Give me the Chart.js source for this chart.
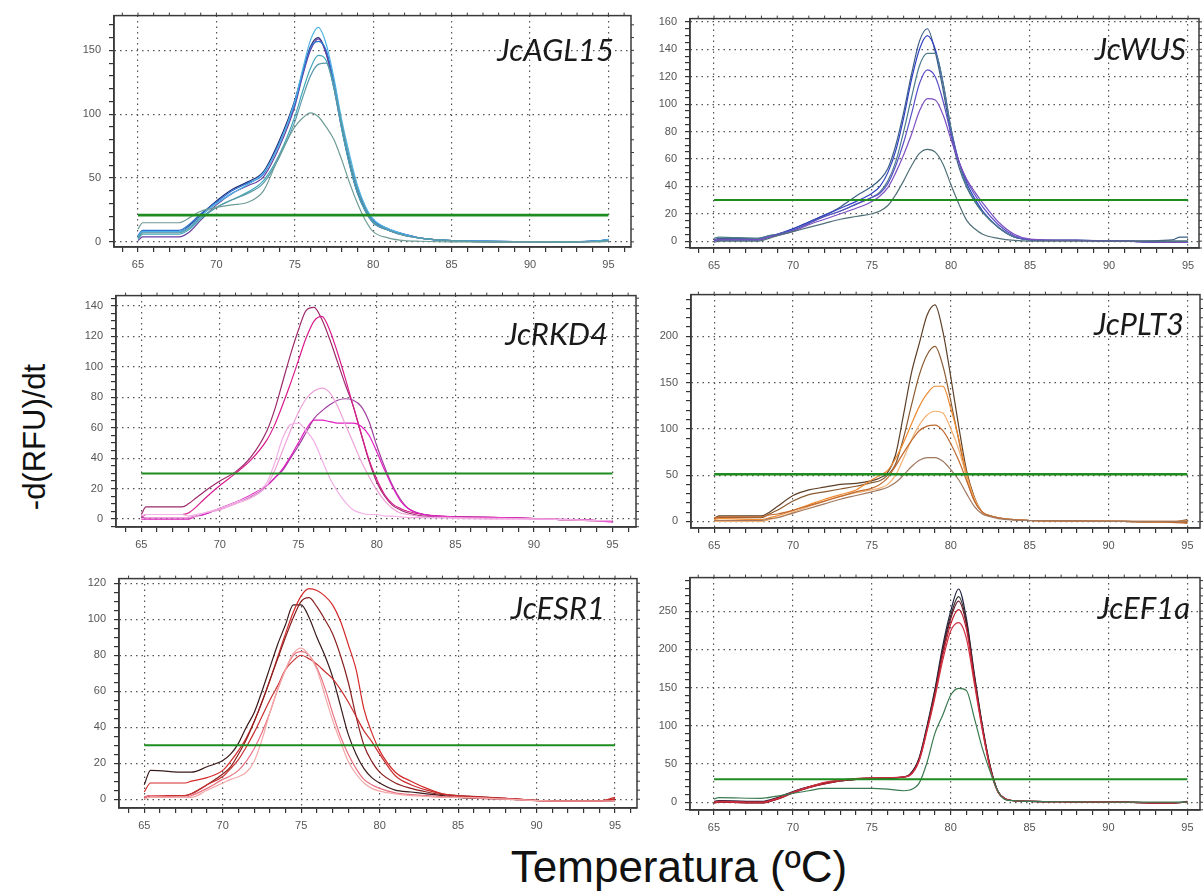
<!DOCTYPE html>
<html>
<head>
<meta charset="utf-8">
<script src="https://cdn.jsdelivr.net/npm/chart.js@4.4.1/dist/chart.umd.min.js"></script>
<style>
  body { margin: 0; background: #fff; width: 1204px; height: 894px; overflow: hidden; position: relative; font-family: "Liberation Sans", Arial, sans-serif; }
  canvas { position: absolute; }
  #ytitle { position: absolute; left: 35px; top: 437px; transform: translate(-50%, -50%) rotate(-90deg); font-size: 31px; white-space: nowrap; color: #111; }
  #xtitle { position: absolute; left: 679px; top: 867px; transform: translate(-50%, -50%); font-size: 44px; white-space: nowrap; color: #111; }
</style>
</head>
<body>
<canvas id="c1"></canvas>
<canvas id="c2"></canvas>
<canvas id="c3"></canvas>
<canvas id="c4"></canvas>
<canvas id="c5"></canvas>
<canvas id="c6"></canvas>
<div id="ytitle">-d(RFU)/dt</div>
<div id="xtitle">Temperatura (ºC)</div>
<script>
// tick labels
var xLabels = [65, 70, 75, 80, 85, 90, 95];

// JcAGL15
var aglTitle = "JcAGL15";
var aglYLabels = [0, 50, 100, 150];
var aglThreshold = 21;
var aglT = [65, 65.3, 67.6, 68.3, 69, 70, 71, 72, 73, 74, 75, 75.5, 76, 76.5, 77, 77.5, 78, 78.5, 79, 79.5, 80, 81, 82, 83, 85, 88, 92, 94.5, 95];
var agl1 = [4, 8, 8, 12, 20, 30, 38, 45, 54, 76, 110, 135, 158, 168, 155, 128, 95, 68, 44, 28, 18, 10, 6, 3, 1, 0.5, 0, 1, 2];
var agl2 = [3, 8, 8, 13, 21, 32, 41, 47, 55, 79, 111, 133, 153, 160, 148, 122, 90, 62, 40, 25, 16, 9, 6, 3, 1, 0.5, 0, 1, 2];
var agl3 = [1, 4, 4, 8, 17, 29, 38, 44, 51, 74, 106, 130, 150, 159, 147, 120, 88, 60, 38, 24, 15, 9, 5, 3, 1, 0, 0, 0.5, 1];
var agl4 = [5, 9, 9, 14, 22, 31, 40, 46, 53, 77, 108, 132, 152, 157, 150, 125, 92, 64, 42, 27, 17, 10, 6, 3, 1, 0.5, 0, 1, 1.5];
var agl5 = [2, 6, 6, 10, 18, 27, 33, 39, 48, 68, 98, 118, 136, 146, 142, 120, 88, 60, 38, 24, 15, 9, 5, 3, 1, 0, 0, 0.5, 1];
var agl6 = [3, 7, 7, 11, 19, 27, 33, 38, 46, 66, 94, 113, 130, 139, 140, 122, 92, 64, 41, 26, 16, 9, 5, 3, 1, 0, 0, 0.5, 1];
var agl7 = [10, 15, 15, 19, 24, 27, 29, 31, 40, 67, 90, 97, 101, 98, 90, 80, 64, 46, 30, 17, 8, 3, 1, 0.5, 0, 0, 0, 0, 0.5];

// JcWUS
var wusTitle = "JcWUS";
var wusYLabels = [0, 20, 40, 60, 80, 100, 120, 140, 160];
var wusThreshold = 30;
var wusT = [65, 65.3, 67.8, 68.5, 69, 70, 71, 72, 73, 74, 75, 75.5, 76, 76.5, 77, 77.5, 78, 78.5, 79, 79.5, 80, 80.5, 81, 81.5, 82, 83, 84, 85, 88, 91, 94, 94.5, 95];
var wus1 = [1, 2, 2, 4, 5, 9, 14, 19, 25, 33, 40, 45, 53, 70, 94, 122, 146, 155, 138, 110, 78, 54, 39, 29, 21, 10, 3, 1, 0.5, 0, 1, 3, 3];
var wus2 = [0, 1, 1, 3, 5, 9, 14, 19, 24, 29, 35, 40, 50, 66, 90, 118, 140, 150, 140, 115, 82, 58, 42, 31, 22, 10, 3, 1, 0.5, 0, -1, -1, -1];
var wus3 = [2, 3, 2, 4, 5, 8, 13, 18, 22, 27, 32, 36, 44, 58, 80, 105, 128, 137, 137, 115, 82, 57, 40, 29, 21, 10, 3, 1, 0.5, 0, 0, 0, 0];
var wus4 = [0, 1, 1, 3, 5, 8, 13, 18, 22, 27, 32, 35, 42, 55, 72, 93, 115, 125, 120, 102, 78, 58, 44, 34, 25, 12, 4, 1, 0.5, 0, -1, -1, -1];
var wus5 = [1, 1, 1, 3, 4, 7, 12, 16, 20, 24, 29, 33, 39, 50, 63, 78, 95, 104, 103, 92, 74, 58, 45, 36, 28, 14, 5, 1.5, 0.5, 0, -1, -1, -1];
var wus6 = [-1, 0, 0, 2, 4, 7, 10, 13, 16, 18, 20, 22, 26, 34, 44, 55, 64, 67, 65, 56, 41, 27, 15, 9, 5, 2, 0.5, 0, 0, 0, 0, 0, 0];

// JcRKD4
var rkdTitle = "JcRKD4";
var rkdYLabels = [0, 20, 40, 60, 80, 100, 120, 140];
var rkdThreshold = 30;
var rkdT = [65, 65.3, 67.6, 68, 68.5, 69, 70, 71, 72, 73, 73.5, 74, 74.5, 75, 75.5, 76, 76.5, 77, 77.5, 78, 78.5, 79, 79.5, 80, 80.5, 81, 81.5, 82, 83, 85, 88, 91, 94, 95];
var rkd1 = [3, 8, 8, 10, 14, 18, 25, 31, 41, 58, 72, 90, 108, 124, 137, 139, 131, 118, 103, 88, 74, 56, 38, 24, 15, 9, 6, 4, 2, 1.5, 1, 0, -1, -1];
var rkd2 = [1, 3, 3, 4, 8, 13, 22, 30, 39, 52, 62, 75, 89, 104, 119, 130, 133, 124, 109, 92, 74, 56, 39, 26, 16, 10, 7, 5, 3, 1.5, 1, 0, -1, -1];
var rkd3 = [0, 1, 1, 1, 2, 4, 6, 10, 14, 22, 32, 45, 58, 70, 79, 84, 86, 83, 74, 62, 50, 38, 28, 19, 12, 7, 4, 3, 1.5, 1, 0.5, 0, -1, -1];
var rkd4 = [1, 1, 1, 1, 2, 3, 7, 11, 15, 22, 27, 32, 40, 48, 57, 66, 71, 75, 78, 79, 78, 74, 64, 48, 34, 22, 13, 7, 3, 1.5, 1, 0, -1, -1];
var rkd5 = [0, 0, 0, 0, 2, 3, 7, 11, 16, 22, 27, 33, 41, 50, 59, 65, 65, 64, 63, 63, 63, 61, 55, 44, 32, 21, 12, 7, 3, 1.5, 1, 0, -1, -2];
var rkd6 = [2, 3, 3, 2, 3, 4, 7, 11, 15.5, 24, 37, 53, 62, 63, 58, 51, 39, 27, 18, 11, 6, 4, 3, 3, 2, 2, 1.5, 1, 1, 0.5, 0, 0, -1, -1];

// JcPLT3
var pltTitle = "JcPLT3";
var pltYLabels = [0, 50, 100, 150, 200];
var pltThreshold = 51;
var pltT = [65, 65.3, 68, 68.5, 69, 70, 71, 72, 73, 74, 75, 75.5, 76, 76.5, 77, 77.5, 78, 78.5, 79, 79.5, 80, 80.5, 81, 81.5, 82, 82.5, 83, 84, 85, 88, 91, 94, 95];
var plt1 = [3, 6, 6, 10, 16, 28, 34, 37, 40, 41, 44, 47, 53, 72, 115, 160, 192, 223, 234, 205, 156, 103, 55, 26, 10, 6, 4, 2, 1, 0.5, 0, -1, 2];
var plt2 = [3, 4, 4, 8, 12, 22, 29, 32, 35, 38, 42, 44, 50, 62, 90, 125, 158, 180, 189, 168, 130, 88, 48, 22, 10, 6, 4, 2, 1, 0.5, 0, -1, -1];
var plt3 = [2, 3, 2, 4, 6, 12, 18, 24, 29, 34, 45, 50, 55, 68, 85, 105, 124, 138, 146, 146, 122, 90, 52, 25, 10, 6, 4, 2, 1, 0.5, 0, 0, 1];
var plt4 = [0, 0, 0, 2, 4, 10, 16, 22, 27, 31, 34, 36, 40, 50, 68, 88, 104, 115, 119, 117, 100, 78, 48, 24, 10, 6, 4, 2, 1, 0.5, 0, -1, 0];
var plt5 = [4, 5, 5, 7, 8, 12, 17, 22, 27, 32, 36, 40, 47, 60, 74, 87, 98, 103, 104, 98, 84, 66, 44, 22, 10, 6, 4, 2, 1, 0.5, 0, -1, -2];
var plt6 = [1, 1, 1, 3, 4, 9, 14, 19, 24, 28, 32, 34, 37, 42, 50, 59, 66, 69, 69, 65, 56, 45, 30, 16, 8, 5, 3, 1.5, 1, 0.5, 0, 0, 0];

// JcESR1
var esrTitle = "JcESR1";
var esrYLabels = [0, 20, 40, 60, 80, 100, 120];
var esrThreshold = 30;
var esrT = [65, 65.4, 67.6, 68, 69, 70, 70.5, 71, 71.5, 72, 72.5, 73, 73.5, 74, 74.5, 75, 75.5, 76, 76.5, 77, 77.5, 78, 78.5, 79, 79.5, 80, 81, 82, 83, 84, 85, 88, 91, 94, 95];
var esr1 = [4, 9, 9, 10, 12, 16, 21, 27, 34, 43, 54, 66, 79, 92, 104, 113, 117, 116, 113, 108, 99, 86, 72, 50, 37, 27, 15, 10, 6, 3, 1.5, 0.5, -1, -1, 0];
var esr2 = [1, 2, 2, 3, 8, 14, 18, 25, 33, 43, 54, 66, 78, 90, 101, 110, 112, 107, 100, 92, 80, 65, 46, 30, 21, 15, 9, 6, 4, 2.5, 2, 0.5, -1, -1, -1];
var esr3 = [8, 16, 15, 15, 18, 21.5, 25, 31, 40, 48, 60, 73, 86, 97, 108, 108, 101, 90, 80, 68, 52, 36, 25, 17, 12, 9, 5, 4, 3, 2, 1, 0, -1, -1, 0];
var esr4 = [0, 1, 1, 1, 5, 9, 11, 12.5, 15, 21, 33, 48, 61, 72, 81, 84, 80, 72, 58, 44, 32, 21, 14, 9, 6, 4.5, 3, 2, 1.5, 1, 1, 0, -1, -1, -1];
var esr5 = [1, 2, 1, 2, 6, 11, 13, 16, 21, 28, 37, 48, 61, 72, 80, 82, 80, 73, 62, 48, 35, 25, 17, 11, 8, 6, 3.5, 2.5, 2, 1.5, 1, 0, -1, -1, -1];
var esr6 = [1, 2, 2, 3, 8, 12.6, 17, 22, 29, 37, 46, 55, 63, 72, 77, 80, 78, 75, 71, 67, 61, 54, 46, 38, 32, 25, 13, 8, 5, 3, 2, 0.5, -1, -1, 1];

// JcEF1a
var efTitle = "JcEF1a";
var efYLabels = [0, 50, 100, 150, 200, 250];
var efThreshold = 30;
var efT = [65, 65.3, 68, 69, 70, 71, 72, 73, 74, 75, 76, 77, 77.4, 78, 78.5, 79, 79.5, 80, 80.5, 81, 81.5, 82, 82.5, 83, 83.5, 84, 85, 88, 91, 94, 95];
var ef1 = [1, 2, 1, 6, 14, 20, 25, 28, 30, 31, 31, 33, 36, 58, 100, 148, 205, 250, 279, 240, 168, 102, 48, 14, 4, 2, 1, 0.5, 0, -1, 1];
var ef2 = [-1, 0, -1, 4, 12, 19, 24, 28, 30, 31, 32, 33, 36, 57, 98, 145, 200, 244, 269, 236, 165, 100, 47, 14, 4, 2, 1, 0.5, 0, -1, 0];
var ef3 = [0, 1, 0, 5, 13, 20, 25, 29, 31, 32, 32, 33, 36, 56, 96, 143, 197, 240, 263, 232, 163, 99, 46, 14, 4, 2, 1, 0.5, 0, -1, 0];
var ef4 = [-1, 0, -1, 4, 12, 19, 24, 28, 30, 31, 32, 33, 35, 55, 95, 140, 192, 233, 252, 226, 160, 97, 45, 13, 4, 2, 1, 0.5, 0, -1, 0];
var ef5 = [0, 1, 0, 5, 13, 20, 26, 29, 31, 32, 32, 33, 35, 54, 93, 137, 186, 224, 235, 214, 155, 95, 44, 13, 4, 2, 1, 0.5, 0, -1, 0];
var ef6 = [4, 6, 5, 8, 11.5, 15, 18, 18, 18, 18, 17, 15, 16, 25, 52, 90, 114, 140, 149, 146, 110, 71, 40, 14, 3, 2, 1, 0.5, 0, 0, 0];

// layout: frame box in page px + axis ranges
var YW = 46, XH = 26, PAD = 8;

var framePlugin = {
    id: 'frame',
    afterDraw: function (chart, args, opts) {
        var a = chart.chartArea, ctx = chart.ctx;
        ctx.save();
        ctx.strokeStyle = '#3a3a3a';
        ctx.lineWidth = 1.5;
        ctx.strokeRect(a.left, a.top, a.right - a.left, a.bottom - a.top);
        // small tick marks on top and right edges, like the instrument plot
        ctx.lineWidth = 1;
        ctx.beginPath();
        chart.scales.x.ticks.forEach(function (t) {
            var px = chart.scales.x.getPixelForValue(t.value);
            ctx.moveTo(px, a.top);
            ctx.lineTo(px, a.top - 3);
        });
        chart.scales.y.ticks.forEach(function (t) {
            var py = chart.scales.y.getPixelForValue(t.value);
            ctx.moveTo(a.right, py);
            ctx.lineTo(a.right + 3, py);
        });
        ctx.stroke();
        ctx.font = 'italic 31px Lato, "Open Sans", sans-serif';
        ctx.fillStyle = '#1a1a1a';
        ctx.textAlign = 'right';
        ctx.textBaseline = 'alphabetic';
        ctx.fillText(opts.text, a.right - opts.dx, a.top + opts.dy);
        ctx.restore();
    }
};

function drawPanel(id, box, temps, curves, colors, yLabels, yStep, threshold, title) {
    var canvas = document.getElementById(id);
    canvas.width = box.fr - box.fl + YW + PAD;
    canvas.height = box.fb - box.ft + PAD + XH;
    canvas.style.left = (box.fl - YW) + 'px';
    canvas.style.top = (box.ft - PAD) + 'px';

    var datasets = [{
        data: [{x: xLabels[0], y: threshold}, {x: xLabels[xLabels.length - 1], y: threshold}],
        borderColor: '#1e8c1e',
        borderWidth: box.gw,
        pointRadius: 0
    }];
    curves.forEach(function (vals, i) {
        datasets.push({
            data: temps.map(function (t, j) { return {x: t, y: vals[j]}; }),
            borderColor: colors[i],
            borderWidth: 1.2,
            pointRadius: 0,
            cubicInterpolationMode: 'monotone'
        });
    });

    new Chart(canvas, {
        type: 'line',
        data: {datasets: datasets},
        plugins: [framePlugin],
        options: {
            responsive: false,
            animation: false,
            devicePixelRatio: 1,
            layout: {padding: {top: PAD, right: PAD, left: 0, bottom: 0}},
            plugins: {
                legend: {display: false},
                tooltip: {enabled: false},
                frame: {text: title, dx: box.tdx, dy: box.tdy}
            },
            scales: {
                x: {
                    type: 'linear',
                    min: box.xmin,
                    max: box.xmax,
                    afterBuildTicks: function (s) {
                        var t = [];
                        for (var v = 64; v <= 96; v++) if (v >= s.min && v <= s.max) t.push({value: v});
                        s.ticks = t;
                    },
                    afterFit: function (s) { s.height = XH; },
                    ticks: {
                        autoSkip: false, maxRotation: 0, padding: 6, color: '#555',
                        font: {size: 11, family: 'Liberation Sans'},
                        callback: function (v) { return xLabels.indexOf(v) >= 0 ? String(v) : ''; }
                    },
                    grid: {
                        color: function (c) { return (c.tick && xLabels.indexOf(c.tick.value) >= 0) ? '#555' : 'rgba(0,0,0,0)'; },
                        tickColor: '#333', tickLength: 5, lineWidth: 1.2
                    },
                    border: {color: '#3a3a3a', width: 1.5, dash: [1.5, 4]}
                },
                y: {
                    type: 'linear',
                    min: box.ymin,
                    max: box.ymax,
                    afterBuildTicks: function (s) {
                        var t = [];
                        for (var v = Math.ceil(s.min / yStep) * yStep; v <= s.max; v += yStep) t.push({value: v});
                        s.ticks = t;
                    },
                    afterFit: function (s) { s.width = YW; },
                    ticks: {
                        autoSkip: false, padding: 8, color: '#555',
                        font: {size: 11, family: 'Liberation Sans'},
                        callback: function (v) { return yLabels.indexOf(v) >= 0 ? String(v) : ''; }
                    },
                    grid: {
                        color: function (c) { return (c.tick && yLabels.indexOf(c.tick.value) >= 0) ? '#555' : 'rgba(0,0,0,0)'; },
                        tickColor: '#333', tickLength: 5, lineWidth: 1.2
                    },
                    border: {color: '#3a3a3a', width: 1.5, dash: [1.5, 4]}
                }
            }
        }
    });
}

drawPanel('c1', {fl: 114, ft: 9, fr: 631, fb: 247, xmin: 63.47, xmax: 96.44, ymin: -4, ymax: 177.2, gw: 2.8, tdx: 17, tdy: 45},
    aglT, [agl7, agl6, agl5, agl1, agl4, agl3, agl2],
    ['#6e9c96', '#5c9aa8', '#3fa8b8', '#4db3e6', '#2f6fd0', '#6b3fa0', '#23307a'],
    aglYLabels, 10, aglThreshold, aglTitle);

drawPanel('c2', {fl: 690, ft: 12, fr: 1199, fb: 248, xmin: 63.48, xmax: 95.69, ymin: -5, ymax: 162.4, gw: 2, tdx: 13, tdy: 41},
    wusT, [wus6, wus5, wus4, wus3, wus2, wus1],
    ['#4f6f78', '#7b4fc0', '#5a4fc8', '#4d7d8c', '#2f3fc0', '#3b5f86'],
    wusYLabels, 5, wusThreshold, wusTitle);

drawPanel('c3', {fl: 116, ft: 289, fr: 636, fb: 527, xmin: 63.39, xmax: 96.5, ymin: -5.2, ymax: 146.7, gw: 2, tdx: 28, tdy: 49},
    rkdT, [rkd6, rkd3, rkd5, rkd4, rkd2, rkd1],
    ['#f2b0e6', '#eea0d8', '#e020c0', '#a040a0', '#d81b8c', '#9c2a6a'],
    rkdYLabels, 5, rkdThreshold, rkdTitle);

drawPanel('c4', {fl: 691, ft: 288, fr: 1200, fb: 528, xmin: 63.53, xmax: 95.8, ymin: -7.1, ymax: 245, gw: 2.4, tdx: 16, tdy: 40},
    pltT, [plt6, plt5, plt4, plt3, plt2, plt1],
    ['#a07860', '#c06a30', '#f4b070', '#f08a30', '#8a5a30', '#5e4028'],
    pltYLabels, 10, pltThreshold, pltTitle);

drawPanel('c5', {fl: 119, ft: 572, fr: 637, fb: 808, xmin: 63.39, xmax: 96.4, ymin: -4.9, ymax: 122.6, gw: 2, tdx: 32, tdy: 40},
    esrT, [esr4, esr5, esr6, esr2, esr1, esr3],
    ['#f4a8a8', '#e87080', '#c83030', '#8a2020', '#d42a2a', '#3a1a1a'],
    esrYLabels, 5, esrThreshold, esrTitle);

drawPanel('c6', {fl: 690, ft: 571, fr: 1200, fb: 810, xmin: 63.48, xmax: 95.8, ymin: -10.2, ymax: 293.9, gw: 2, tdx: 10, tdy: 41},
    efT, [ef6, ef5, ef4, ef3, ef2, ef1],
    ['#3a7a50', '#d03040', '#c02030', '#6a1a2a', '#303030', '#202040'],
    efYLabels, 10, efThreshold, efTitle);
</script>
</body>
</html>
